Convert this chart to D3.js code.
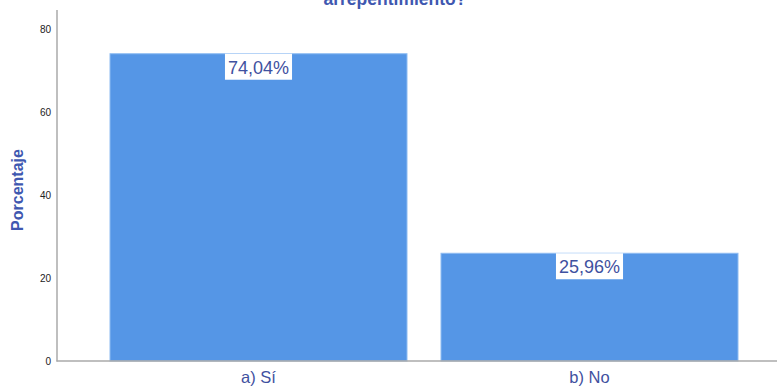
<!DOCTYPE html>
<html><head><meta charset="utf-8">
<script src="https://cdn.jsdelivr.net/npm/d3@7"></script>
<style>body{margin:0;background:#fff;}svg{display:block;font-family:"Liberation Sans",Arial,sans-serif;}</style>
</head><body>
<svg id="c" width="777" height="387"></svg>
<script>
const categories = ["a) Sí", "b) No"];
const values = [74.04, 25.96];
const valueLabels = ["74,04%", "25,96%"];
const yTicks = [0, 20, 40, 60, 80];
const titleText = "arrepentimiento?";
const yTitle = "Porcentaje";

const svg = d3.select("#c");
const y = d3.scaleLinear().domain([0, 80]).range([361, 29]);
const x = d3.scaleBand().domain(categories).range([110, 738]).paddingInner(0.1027).paddingOuter(0);
const textBlue = "#3f51a0";

// title (cut off at top, as in the reference)
svg.append("text").attr("x", 395).attr("y", 5).attr("text-anchor", "middle")
  .attr("font-size", 17.5).attr("font-weight", "bold").attr("fill", "#3f58b0").text(titleText);

// bars
svg.selectAll("rect.bar").data(values).enter().append("rect")
  .attr("class", "bar")
  .attr("x", (d, i) => x(categories[i]))
  .attr("y", d => y(d))
  .attr("width", x.bandwidth())
  .attr("height", d => y(0) - y(d))
  .attr("fill", "#5596e6").attr("stroke", "#8ebcf2").attr("stroke-width", 1);

// y axis
const yAxis = d3.axisLeft(y).tickValues(yTicks).tickSize(0).tickPadding(6).tickFormat(d3.format("d"));
const gy = svg.append("g").attr("transform", "translate(57,0)").call(yAxis);
gy.select(".domain").remove();
gy.selectAll("text").attr("font-size", 10).attr("fill", "#222").attr("font-family", "Liberation Sans, Arial, sans-serif");
svg.append("line").attr("x1", 57).attr("x2", 57).attr("y1", 10).attr("y2", 361.5)
  .attr("stroke", "#aaa").attr("stroke-width", 1.5);

// x axis
const xAxis = d3.axisBottom(x).tickSize(0).tickPadding(10);
const gx = svg.append("g").attr("transform", "translate(0,361)").call(xAxis);
gx.select(".domain").remove();
gx.selectAll("text").attr("font-size", 16.5).attr("fill", textBlue).attr("font-family", "Liberation Sans, Arial, sans-serif");
svg.append("line").attr("x1", 56.5).attr("x2", 777).attr("y1", 361).attr("y2", 361)
  .attr("stroke", "#aaa").attr("stroke-width", 1.5);

// y title
svg.append("text").attr("transform", "translate(23,190) rotate(-90)").attr("text-anchor", "middle")
  .attr("font-size", 16).attr("font-weight", "bold").attr("fill", "#3f58b0").text(yTitle);

// value labels
values.forEach((v, i) => {
  const cx = x(categories[i]) + x.bandwidth() / 2;
  const top = y(v);
  const g = svg.append("g");
  const t = g.append("text").attr("x", cx).attr("y", top + 20).attr("text-anchor", "middle")
    .attr("font-size", 18).attr("fill", textBlue).text(valueLabels[i]);
  const bb = t.node().getBBox();
  g.insert("rect", "text").attr("x", bb.x - 3).attr("y", top).attr("width", bb.width + 6)
    .attr("height", 26).attr("fill", "#fff");
});
</script>
</body></html>
